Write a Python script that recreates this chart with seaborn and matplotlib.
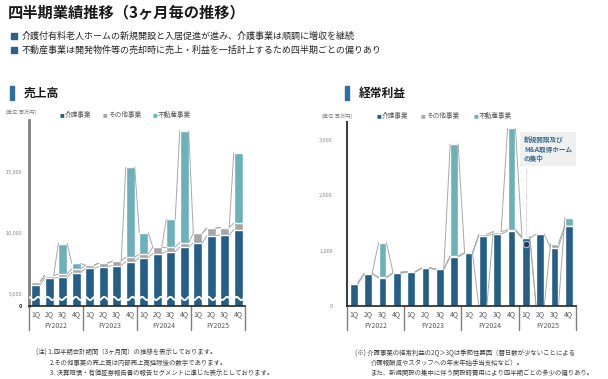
import numpy as np
import pandas as pd
import matplotlib
matplotlib.use('Agg')
import matplotlib.pyplot as plt
from matplotlib.patches import Rectangle
import seaborn as sns

sns.set_theme(style='white')
plt.rcParams['font.family'] = ['Noto Sans CJK JP', 'DejaVu Sans']

# ---- data (百万円) ----
years = ['FY2022', 'FY2023', 'FY2024', 'FY2025']
quarters = ['1Q', '2Q', '3Q', '4Q']
periods = [f'{y} {q}' for y in years for q in quarters]

sales_care = [5740, 6290, 6340, 6750, 7080, 7240, 7320, 7650,
              7980, 8300, 8470, 8850, 9160, 9760, 9840, 10250]
sales_other = [270, 210, 270, 300, 270, 280, 360, 360,
               270, 530, 360, 360, 820, 630, 600, 550]
sales_real = [0, 0, 2520, 440, 0, 0, 0, 7380,
              1780, 0, 2290, 9180, 0, 0, 0, 5790]

profit_care = [400, 580, 510, 590, 610, 680, 660, 890,
               950, 1270, 1300, 1360, 1225, 1300, 1055, 1445]
profit_other = [10, 10, 10, 15, 10, 10, 10, 15,
                15, 30, 45, 20, 30, -20, 75, 10]
profit_real = [0, 0, 625, 10, 0, 0, 0, 2025,
               0, -15, 0, 1830, 0, -20, -15, 145]

c_care = '#255E87'
c_other = '#A6A6A6'
c_real = '#6CB1B9'
c_line = '#A8A8A8'

W, H = 608, 379
fig = plt.figure(figsize=(W / 100, H / 100), dpi=100)


def fx(x):
    return x / W


def fy(y):
    return 1 - y / H


def draw_stack(ax, care, other, real, width):
    df = pd.DataFrame({'period': periods, 'care': care, 'other': other, 'real': real})
    df['c1'] = df['care']
    df['c2'] = df['c1'] + df['other'].clip(lower=0)
    df['c3'] = df['c2'] + df['real'].clip(lower=0)
    for col, color in [('c3', c_real), ('c2', c_other), ('c1', c_care)]:
        sns.barplot(data=df, x='period', y=col, order=periods, color=color,
                    width=width, saturation=1, errorbar=None, ax=ax)
    # series lines (negative segments stack below zero)
    neg_other = df['other'].clip(upper=0)
    l2 = np.where(df['other'] < 0, neg_other, df['c2'])
    l3 = np.where(df['real'] < 0, neg_other + df['real'], df['c3'])
    for vals in [df['c1'].values, l2, l3]:
        for i in range(len(periods) - 1):
            ax.plot([i + width / 2, i + 1 - width / 2], [vals[i], vals[i + 1]],
                    color=c_line, lw=0.7, zorder=1)


def style_axes(ax, spine_color, spine_lw, ypad):
    sns.despine(ax=ax, top=True, right=True)
    ax.spines['left'].set_color(spine_color)
    ax.spines['left'].set_linewidth(spine_lw)
    ax.spines['bottom'].set_color('#262626')
    ax.spines['bottom'].set_linewidth(1.2)
    ax.set_xlim(-0.5, 15.5)
    ax.set_xlabel('')
    ax.set_ylabel('')
    ax.set_xticks(range(16))
    ax.set_xticklabels(quarters * 4, fontsize=5, color='#595959')
    ax.tick_params(axis='x', length=0, pad=3)
    ax.tick_params(axis='y', length=0, pad=ypad, labelsize=4, labelcolor='#8C8C8C')
    tr = ax.get_xaxis_transform()
    for b in [-0.5, 3.5, 7.5, 11.5, 15.5]:
        ax.plot([b, b], [0, -0.13], transform=tr, clip_on=False,
                color='#7F7F7F', lw=1.0)
    for k, yname in enumerate(years):
        ax.text(k * 4 + 1.5, -0.108, yname, transform=tr, ha='center', va='center',
                fontsize=5, color='#595959')
    ax.patch.set_alpha(0)


# ---- 売上高 ----
ax1 = fig.add_axes([fx(29), fy(306), fx(216), 186 / H])
draw_stack(ax1, sales_care, sales_other, sales_real, 0.66)


def fwd(v):
    v = np.asarray(v, dtype=float)
    return np.where(v < 5000, v * 0.2, v - 4000)


def inv(u):
    u = np.asarray(u, dtype=float)
    return np.where(u < 1000, u * 5, u + 4000)


ax1.set_yscale('function', functions=(fwd, inv))
ax1.set_ylim(0, 19270)
ax1.set_yticks([0, 5000, 10000, 15000])
ax1.set_yticklabels(['0', '5,000', '10,000', '15,000'])
style_axes(ax1, '#808080', 2.0, 5)
ax1.get_yticklabels()[0].set_color('#262626')
ax1.get_yticklabels()[0].set_fontweight('bold')
# broken-axis wave
xs = np.linspace(-0.45, 15.45, 900)
ax1.plot(xs, 3100 + 650 * np.sin(2 * np.pi * xs / 0.7), color='white', lw=1.4, zorder=5)

# ---- 経常利益 ----
ax2 = fig.add_axes([fx(346.7), fy(306), fx(229.3), 184 / H])
draw_stack(ax2, profit_care, profit_other, profit_real, 0.55)
ax2.set_ylim(0, 3327)
ax2.set_yticks([0, 1000, 2000, 3000])
ax2.set_yticklabels(['0', '1,000', '2,000', '3,000'])
style_axes(ax2, '#404040', 1.5, 10)

# annotation on 1Q FY2025
ax2.plot([12, 12], [1255, 2500], ls=(0, (1, 1.5)), color='#C4A8A8', lw=0.6, zorder=4)
ax2.plot([12], [1120], marker='o', ms=4.5, mfc='#1F3A55', mec='#A9BDD0', mew=0.8, zorder=6)
fig.text(fx(524), fy(149), '新規開設及び\nM&A取得ホーム\nの集中', fontsize=4.8, color='#3D6E93',
         fontweight='bold', va='center', ha='left', linespacing=1.45,
         bbox=dict(boxstyle='square,pad=0.55', fc='#F0F0F0', ec='none'))

# ---- titles and text ----
fig.text(fx(8), fy(13), '四半期業績推移（3ヶ月毎の推移）', fontsize=11, fontweight='bold',
         color='#1A1A1A', va='center', ha='left')
bullets = ['介護付有料老人ホームの新規開設と入居促進が進み、介護事業は順調に増収を継続',
           '不動産事業は開発物件等の売却時に売上・利益を一括計上するため四半期ごとの偏りあり']
for i, t in enumerate(bullets):
    yy = 36 + i * 14
    fig.patches.append(Rectangle((fx(11), fy(yy + 3)), fx(6), 6 / H, transform=fig.transFigure,
                                 color='#2F5F8A'))
    fig.text(fx(22), fy(yy), t, fontsize=6.5, color='#262626', va='center', ha='left')

for x0, label in [(10, '売上高'), (345, '経常利益')]:
    fig.patches.append(Rectangle((fx(x0), fy(100)), fx(4), 14 / H, transform=fig.transFigure,
                                 color='#2E6FA5'))
    fig.text(fx(x0 + 14), fy(93), label, fontsize=8.5, fontweight='bold', color='#1A1A1A',
             va='center', ha='left')

for x0, y0, ly, xs_leg in [(5, 112, 115, [60, 103, 153]), (322, 116, 116, [377, 421, 474])]:
    fig.text(fx(x0), fy(y0), '(単位:百万円)', fontsize=3.8, color='#7F7F7F', va='center', ha='left')
    for xl, col, name in zip(xs_leg, [c_care, c_other, c_real], ['介護事業', 'その他事業', '不動産事業']):
        fig.text(fx(xl), fy(ly), '■', fontsize=3.6, color=col, va='center', ha='left',
                 family='DejaVu Sans')
        fig.text(fx(xl + 5), fy(ly), name, fontsize=4.8, color='#595959',
                 va='center', ha='left')

notes_left = [(36, '(注) 1.四半期会計期間（3ヶ月間）の推移を表示しております。'),
              (50, '2.その他事業の売上高は内部売上高控除後の数字であります。'),
              (50, '3. 決算短信・有価証券報告書の報告セグメントに準じた表示としております。')]
notes_right = [(355, '(※) 介護事業の経常利益の2Q＞3Qは季節性要因（暦日数が少ないことによる'),
               (371, '介護報酬減やスタッフへの年末年始手当支給など）。'),
               (371, 'また、新規開設の集中に伴う開設時費用により四半期ごとの多少の偏りあり。')]
for i in range(3):
    yy = 353 + i * 10
    fig.text(fx(notes_left[i][0]), fy(yy), notes_left[i][1], fontsize=4.6, color='#404040',
             va='center', ha='left')
    fig.text(fx(notes_right[i][0]), fy(yy), notes_right[i][1], fontsize=4.6, color='#404040',
             va='center', ha='left')

fig.savefig('out.png', dpi=100)
